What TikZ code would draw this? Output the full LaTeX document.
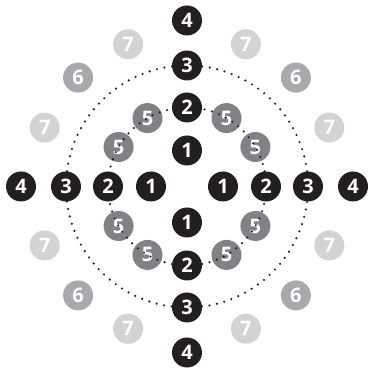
\documentclass[tikz,border=0pt]{standalone}
\usepackage{fontspec}
\setmainfont{Open Sans}
\definecolor{ink}{HTML}{231F20}
\definecolor{gfive}{HTML}{808285}
\definecolor{gsix}{HTML}{A7A9AC}
\definecolor{gseven}{HTML}{D1D3D4}

\begin{document}
\begin{tikzpicture}[x=1pt,y=1pt,
	disc/.style={circle,inner sep=0pt,minimum size=30pt,text=white,
		font=\fontsize{20}{20}\selectfont\bfseries},
	blk/.style={disc,fill=ink},
	five/.style={disc,fill=gfive},
	six/.style={disc,fill=gsix},
	seven/.style={disc,fill=gseven},
	ring/.style={draw=ink,line width=2.4pt,line cap=round,dash pattern=on 0pt off 7.6pt}]
	\useasboundingbox (0,0) rectangle (370,369);
	\coordinate (c) at (187,182.5);
	\begin{scope}[shift={(c)}]
		% light grey 7s
		\node[seven] (seven-a) at (67.5:154) {7};
		\node[seven] (seven-b) at (112.5:154) {7};
		\node[seven] (seven-c) at (157.5:154) {7};
		\node[seven] (seven-d) at (202.5:154) {7};
		\node[seven] (seven-e) at (247.5:154) {7};
		\node[seven] (seven-f) at (292.5:154) {7};
		\node[seven] (seven-g) at (337.5:154) {7};
		\node[seven] (seven-h) at (22.5:154) {7};
		
		\node[six] (six-ne) at (45:154) {6};
		\node[six] (six-nw) at (135:154) {6};
		\node[six] (six-sw) at (225:154) {6};
		\node[six] (six-se) at (315:154) {6};
		
		\node[five] (five-a) at (30:79) {5};
		\node[five] (five-b) at (60:79) {5};
		\node[five] (five-c) at (120:79) {5};
		\node[five] (five-d) at (150:79) {5};
		\node[five] (five-e) at (210:79) {5};
		\node[five] (five-f) at (240:79) {5};
		\node[five] (five-g) at (300:79) {5};
		\node[five] (five-h) at (330:79) {5};
	\end{scope}
	
	\draw[ring] (c) circle (79pt);
	\draw[ring] (c) circle (121pt);
	
	\begin{scope}[shift={(c)}]
		\node[blk] (one-n) at (90:36) {1};
		\node[blk] (one-w) at (180:36) {1};
		\node[blk] (one-s) at (270:36) {1};
		\node[blk] (one-e) at (0:36) {1};
		
		\node[blk] (two-n) at (90:79) {2};
		\node[blk] (two-w) at (180:79) {2};
		\node[blk] (two-s) at (270:79) {2};
		\node[blk] (two-e) at (0:79) {2};
		
		\node[blk] (three-n) at (90:121) {3};
		\node[blk] (three-w) at (180:121) {3};
		\node[blk] (three-s) at (270:121) {3};
		\node[blk] (three-e) at (0:121) {3};
		
		\node[blk] (four-n) at (90:166) {4};
		\node[blk] (four-w) at (180:166) {4};
		\node[blk] (four-s) at (270:166) {4};
		\node[blk] (four-e) at (0:166) {4};
	\end{scope}
\end{tikzpicture}
\end{document}
